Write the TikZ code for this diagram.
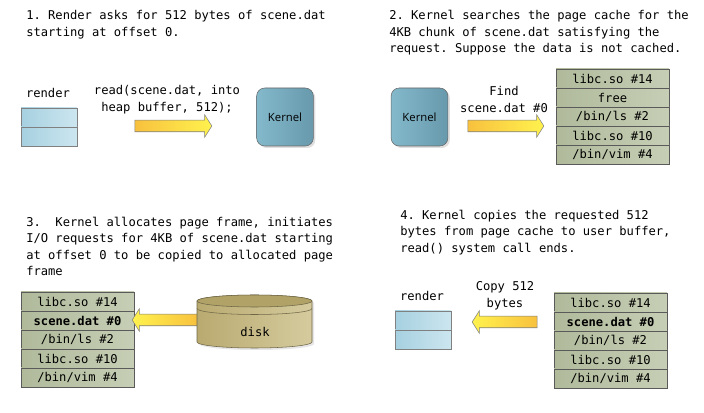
\documentclass[tikz,border=0pt]{standalone}
\usepackage{fontspec}
\setmonofont{DejaVu Sans Mono}
\newfontfamily\kernelfont{Open Sans}
\usepackage{xcolor}
\usetikzlibrary{shapes.arrows,shadows}
\frenchspacing

\definecolor{cellgreen}{HTML}{B0BA9B}
\definecolor{cellgreenlt}{HTML}{C6CEB5}
\definecolor{celledge}{HTML}{5A5A5A}
\definecolor{renderblue}{HTML}{A6D0E0}
\definecolor{renderbluelt}{HTML}{CCE6EF}
\definecolor{kernelblue}{HTML}{83B9CB}
\definecolor{kernelbluedk}{HTML}{6899AC}
\definecolor{arroworange}{HTML}{F8C13E}
\definecolor{arrowyellow}{HTML}{FFF24E}
\definecolor{diskkhaki}{HTML}{B9AA70}
\definecolor{diskkhakilt}{HTML}{D5CB9E}
\definecolor{disktop}{HTML}{B1A267}
\definecolor{diskedge}{HTML}{6F6748}

\tikzset{
	desc/.style={anchor=north west, align=left, inner sep=0pt, font=\fontsize{9.1}{12.4}\selectfont\ttfamily},
	say/.style={align=center, inner sep=0pt, font=\fontsize{9.1}{12.6}\selectfont\ttfamily},
	cell/.style={draw=celledge, left color=cellgreen, right color=cellgreenlt, minimum width=84.75pt, minimum height=14.25pt, inner sep=0pt, font=\fontsize{9.1}{11}\selectfont\ttfamily},
	renderbox/.style={draw=gray, left color=renderblue, right color=renderbluelt, minimum width=42pt, minimum height=14.25pt, inner sep=0pt},
	kernelbox/.style={draw=gray!80!black, rounded corners=6pt, left color=kernelblue, right color=kernelbluedk, minimum width=42.5pt, minimum height=43.5pt, drop shadow={opacity=0.25, shadow xshift=1.5pt, shadow yshift=-1.5pt}, font=\kernelfont\fontsize{8.5}{10}\selectfont},
	fatarrow/.style={single arrow, draw=gray, inner xsep=0pt, inner ysep=4.125pt, text height=0pt, text depth=0pt, text width=0pt, single arrow head extend=4.125pt, single arrow tip angle=115, left color=arroworange, right color=arrowyellow},
	backarrow/.style={fatarrow, shape border rotate=180, left color=arrowyellow, right color=arroworange}
}

\begin{document}
\begin{tikzpicture}[x=0.75pt, y=-0.75pt]
	\useasboundingbox (0,0) rectangle (704,413);

	% step 1
	\node[desc] (descA) at (26,10.3) {1. Render asks for 512 bytes of scene.dat\\starting at offset 0.};
	\node[say] (renderA) at (48,93) {render};
	\node[renderbox] (bufA-1) at (49,117.5) {};
	\node[renderbox] (bufA-2) at (49,136.5) {};
	\node[say] (callA) at (167,99.5) {read(scene.dat, into\\heap buffer, 512);};
	\node[fatarrow, minimum height=57.75pt] (arrA) at (171.5,126) {};
	\node[kernelbox] (kernA) at (285,117) {Kernel};

	% step 2
	\node[desc] (descB) at (389,10.3) {2. Kernel searches the page cache for the\\4KB chunk of scene.dat satisfying the\\request. Suppose the data is not cached.};
	\node[kernelbox] (kernB) at (419.5,117) {Kernel};
	\node[say] (findB) at (504,99.5) {Find\\scene.dat \#0};
	\node[fatarrow, minimum height=57pt] (arrB) at (504,126) {};
	\foreach \lbl [count=\i] in {libc.so \#14, free, /bin/ls \#2, libc.so \#10, /bin/vim \#4}
	{
		\node[cell] (cacheB-\i) at (612.5,59.5+19*\i) {\lbl};
	}

	% step 3
	\node[desc] (descC) at (26,216.8) {3.~ Kernel allocates page frame, initiates\\I/O requests for 4KB of scene.dat starting\\at offset 0 to be copied to allocated page\\frame};
	\foreach \lbl [count=\i] in {libc.so \#14, \textbf{scene.dat \#0}, /bin/ls \#2, libc.so \#10, /bin/vim \#4}
	{
		\node[cell] (cacheC-\i) at (77.5,282.5+19*\i) {\lbl};
	}
	\node[backarrow, minimum height=49.5pt] (arrC) at (167,320) {};
	% disk
	\path[draw=diskedge, left color=diskkhaki, right color=diskkhakilt, drop shadow={opacity=0.2, shadow xshift=1.5pt, shadow yshift=-1.5pt}]
		(197,301) -- (197,342) arc[start angle=180, end angle=360, x radius=43.125pt, y radius=4.5pt]
		-- (312,301) arc[start angle=0, end angle=180, x radius=43.125pt, y radius=4.5pt] -- cycle;
	\draw[diskedge, fill=disktop] (254.5,301) ellipse[x radius=43.125pt, y radius=4.5pt];
	\draw[diskedge] (197,308.5) arc[start angle=180, end angle=360, x radius=43.125pt, y radius=4.5pt];
	\node[say] (disk) at (255,332) {disk};

	% step 4
	\node[desc] (descD) at (400,209.8) {4. Kernel copies the requested 512\\bytes from page cache to user buffer,\\read() system call ends.};
	\node[say] (renderD) at (422,296) {render};
	\node[renderbox] (bufD-1) at (423,320.5) {};
	\node[renderbox] (bufD-2) at (423,339.5) {};
	\node[say] (copyD) at (505,296) {Copy 512\\bytes};
	\node[backarrow, minimum height=48.75pt] (arrD) at (506.5,322) {};
	\foreach \lbl [count=\i] in {libc.so \#14, \textbf{scene.dat \#0}, /bin/ls \#2, libc.so \#10, /bin/vim \#4}
	{
		\node[cell] (cacheD-\i) at (610.5,283.5+19*\i) {\lbl};
	}
\end{tikzpicture}
\end{document}
